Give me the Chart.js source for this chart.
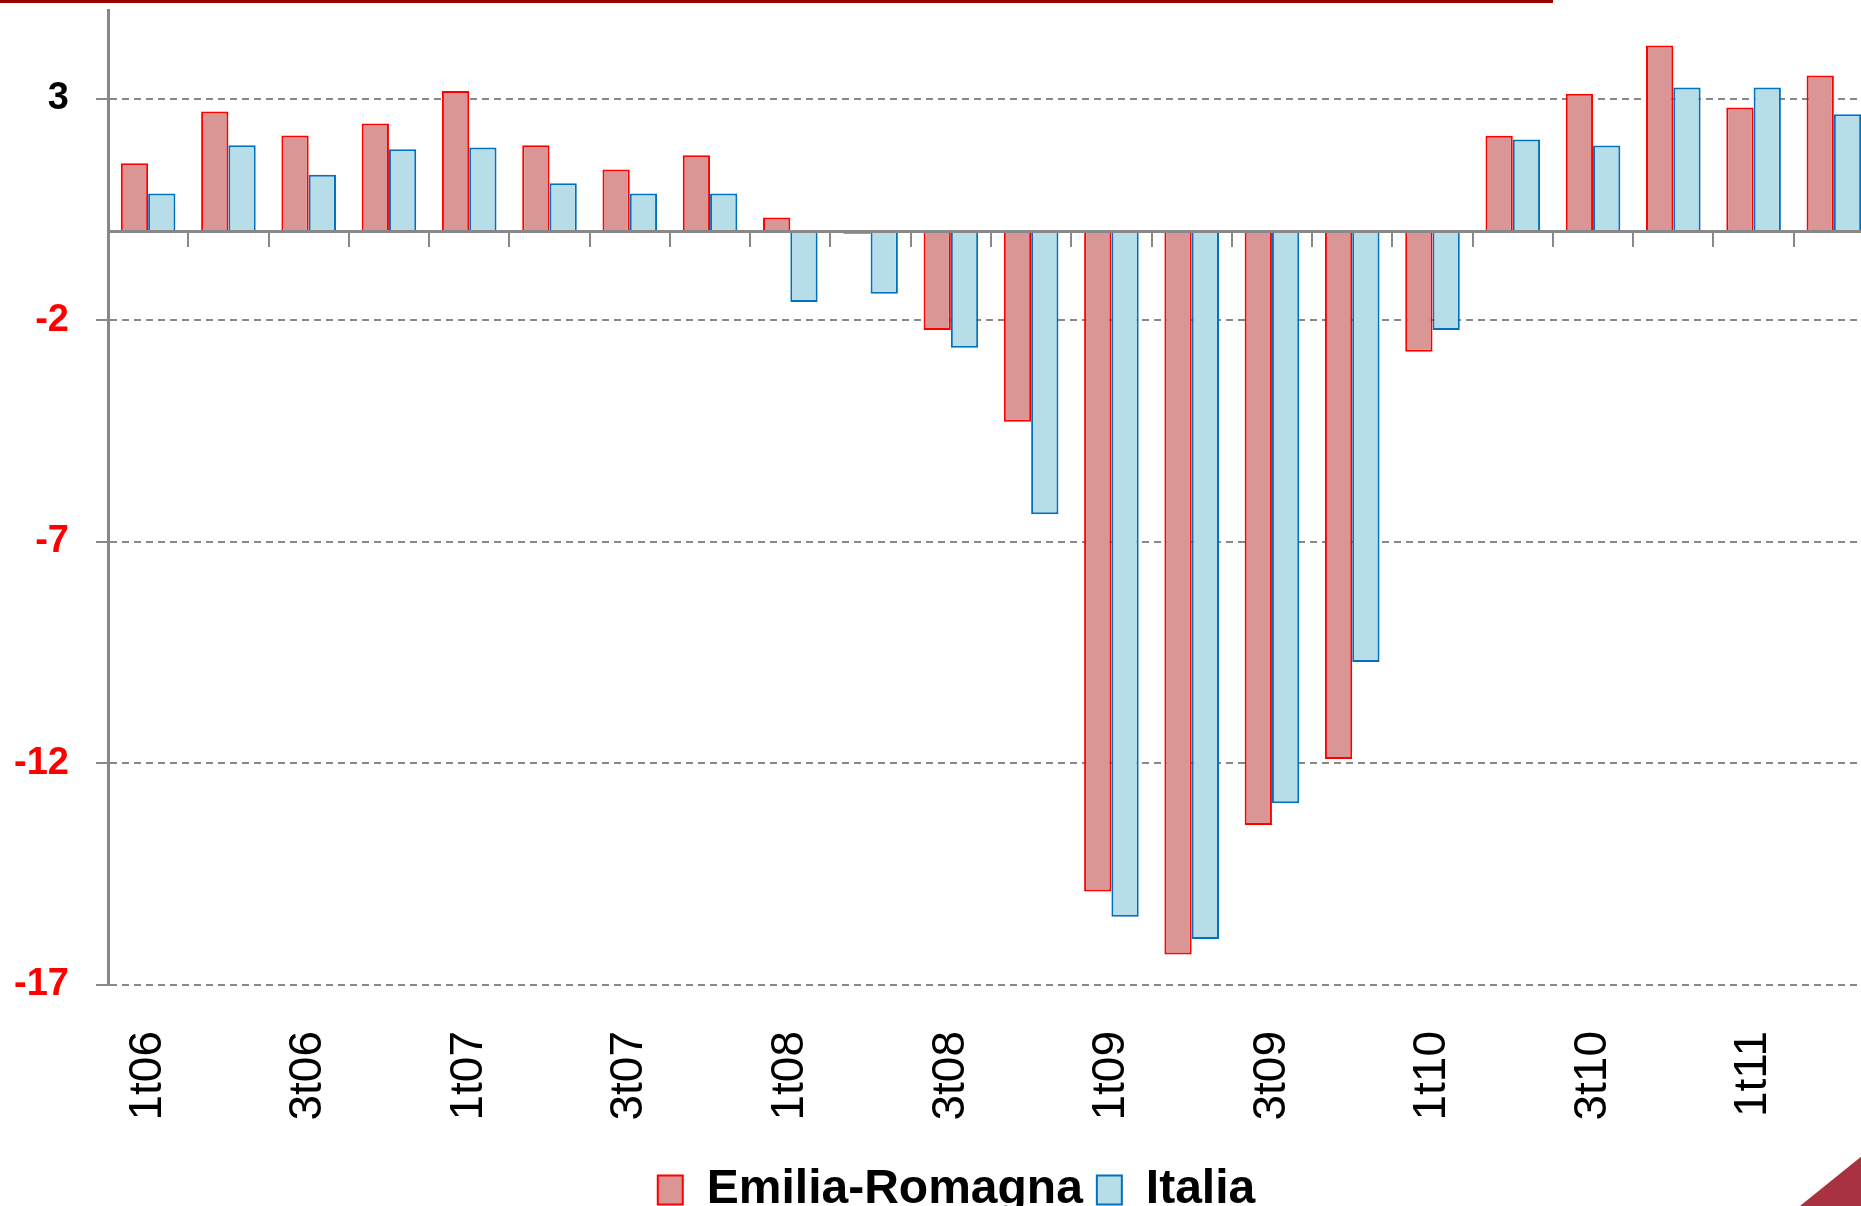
<!DOCTYPE html>
<html>
<head>
<meta charset="utf-8">
<title>Emilia-Romagna / Italia</title>
<script src="https://cdn.jsdelivr.net/npm/chart.js@4.4.1/dist/chart.umd.min.js"></script>
<style>
  html, body { margin: 0; padding: 0; background: #fff; overflow: hidden; width: 1861px; height: 1206px; }
  #topline { position: absolute; left: 0; top: 0; width: 1553px; height: 3px; background: #990000; }
  #corner { position: absolute; left: 1790px; top: 1150px; width: 71px; height: 56px; background: #a8323f;
            clip-path: polygon(100% 12%, 100% 100%, 14% 100%); }
  #c { position: absolute; left: 0; top: 0; }
</style>
</head>
<body>
<div id="topline"></div>
<canvas id="c" width="1874" height="1206"></canvas>
<div id="corner"></div>
<script>
// quarters, 1t06 .. 2t11
const quarters = ['1t06', '2t06', '3t06', '4t06', '1t07', '2t07', '3t07', '4t07',
                  '1t08', '2t08', '3t08', '4t08', '1t09', '2t09', '3t09', '4t09',
                  '1t10', '2t10', '3t10', '4t10', '1t11', '2t11'];

const emiliaRomagna = [1.54, 2.71, 2.17, 2.44, 3.17, 1.95, 1.40, 1.72,
                       0.32, -0.05, -2.22, -4.29, -14.89, -16.31, -13.39, -11.90,
                       -2.71, 2.16, 3.11, 4.20, 2.80, 3.52];

const italia = [0.86, 1.95, 1.28, 1.86, 1.90, 1.09, 0.86, 0.86,
                -1.59, -1.40, -2.62, -6.38, -15.46, -15.96, -12.90, -9.71,
                -2.22, 2.08, 1.94, 3.25, 3.25, 2.65];

const yTicks = [-17, -12, -7, -2, 3];
const yMin = -17;
const yMax = 5;

Chart.defaults.font.family = "'Liberation Sans', Arial, sans-serif";

const plotBottom = 985;
const padBottom = -18;

const ctx = document.getElementById('c');

new Chart(ctx, {
    type: 'bar',
    data: {
        labels: quarters,
        datasets: [
            {
                label: 'Emilia-Romagna',
                data: emiliaRomagna,
                backgroundColor: '#d99694',
                borderColor: '#ff0000',
                borderWidth: 2
            },
            {
                label: 'Italia',
                data: italia,
                backgroundColor: '#b7dee8',
                borderColor: '#0070c0',
                borderWidth: 2
            }
        ]
    },
    options: {
        responsive: false,
        animation: false,
        devicePixelRatio: 1,
        categoryPercentage: 0.68,
        barPercentage: 1,
        layout: { padding: { top: 10, left: 39, right: 0, bottom: padBottom } },
        plugins: {
            tooltip: { enabled: false },
            legend: {
                position: 'bottom',
                labels: {
                    color: '#000',
                    boxWidth: 25,
                    boxHeight: 29,
                    padding: 14,
                    font: { size: 48, weight: 'bold' }
                }
            }
        },
        scales: {
            y: {
                min: yMin,
                max: yMax,
                afterBuildTicks: (axis) => {
                    axis.ticks = yTicks.map(v => ({ value: v }));
                },
                afterFit: (axis) => {
                    axis.width = 69;
                    axis.paddingTop = 0;
                    axis.paddingBottom = 0;
                },
                border: { display: true, color: '#888888', width: 3, dash: [7, 5] },
                grid: { color: '#888888', lineWidth: 2, drawTicks: true, tickLength: 12 },
                ticks: {
                    // mirrored + far so the labels sit right-aligned left of the axis without clipping
                    mirror: true,
                    crossAlign: 'far',
                    padding: -94,
                    font: { size: 38, weight: 'bold' },
                    color: (c) => c.tick.value >= 0 ? '#000000' : '#ff0000'
                }
            },
            x: {
                grid: { display: false, drawTicks: false },
                border: { display: false },
                ticks: {
                    autoSkip: false,
                    minRotation: 90,
                    maxRotation: 90,
                    padding: 46,
                    color: '#000',
                    font: { size: 46 },
                    callback: function (val, i) {
                        return i % 2 === 0 ? this.getLabelForValue(val) : '';
                    }
                },
                afterFit: (axis) => {
                    axis.height = axis.chart.height - padBottom - plotBottom - axis.chart.legend.height;
                    axis.paddingLeft = 0;
                    axis.paddingRight = 0;
                }
            },
            // zero line with the category tick marks
            x2: {
                type: 'category',
                axis: 'x',
                position: { y: 0 },
                offset: true,
                grid: { offset: true, drawOnChartArea: false, drawTicks: true, tickLength: 14,
                        color: '#888888', lineWidth: 2, z: 1 },
                border: { display: true, color: '#888888', width: 3, z: 1 },
                ticks: { display: false }
            }
        }
    }
});
</script>
</body>
</html>
